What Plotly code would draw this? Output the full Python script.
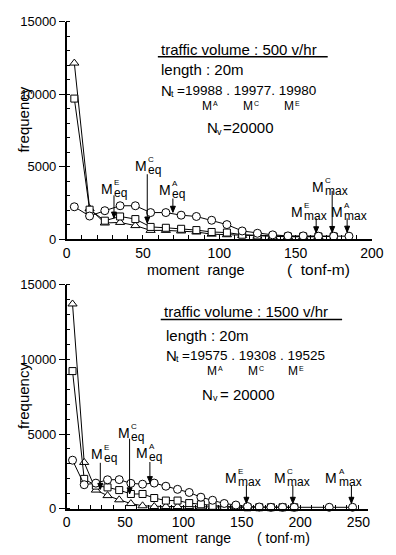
import plotly.graph_objects as go

W, H = 396, 555
OFF = 8  # the page body margin shifts the figure by 8 px

# ---------------- data ----------------
bins_top = list(range(5, 195, 10))  # 5 .. 185
top_A = [2230, 1590, 1960, 2300, 2300, 1830, 1830, 1650, 1560, 1300, 1000, 560, 400, 290, 220, 220, 200, 200, 200]
top_C = [9700, 2030, 1270, 1560, 1380, 840, 780, 710, 620, 490, 450, 300, 250, 200, 180, 180, 180, 180, None]
top_E = [12150, 2100, 1110, 1150, 930, 600, 600, 560, 490, 340, 300, 250, 200, 180, 160, 160, 160, None, None]

bins_bot = list(range(5, 255, 10))  # 5 .. 245
bot_A = [3250, 1610, 1715, 1940, 1950, 1700, 1645, 1720, 1510, 1300, 1090, 775, 570, 355, 250, 150, 120,
         100, 100, 100, None, None, 100, None, 100]
bot_C = [9210, 2000, 1550, 1430, 1250, 990, 990, 720, 550, 550, 380, 300, 200, 150, 120, 100, 100,
         100, 100, 100, None, None, None, None, None]
bot_E = [13700, 3100, 1250, 880, 600, 350, 200, 150, 150, 150, 150, 120, 100, 100, 100, 100,
         None, None, None, None, None, None, None, None, None]

# equivalent / maximum moment markers (order: E, C, A)
top_meq = [31, 52.8, 69.6]
top_meq_tip = [1450, 1110, 1850]
top_mmax = [163.5, 174, 183.8]
top_mmax_tip = [160, 180, 200]
bot_meq = [28.8, 53.9, 71.3]
bot_meq_tip = [1300, 1000, 1750]
bot_mmax = [154, 193.8, 244]
bot_mmax_tip = [100, 100, 100]

letters = ["E", "C", "A"]

x_ticks_top = [0, 50, 100, 150, 200]
x_ticks_bot = [0, 50, 100, 150, 200, 250]
y_ticks = [0, 5000, 10000, 15000]
y_tick_text = ["0", "5000", "10000", "15000"]

# ---------------- geometry (screen pixels) ----------------
TX0, TX1, TXR = 65, 383, 200
TY0, TY1 = 238.3, 15
BX0, BXR = 65, 258
BX1 = BX0 + BXR * 1.216
BY0, BY1 = 515.5, 285

FONT = "Liberation Sans, Arial, sans-serif"


def fx(x):
    return (x - OFF) / W


def fy(y):
    return 1 - (y - OFF) / H


def P(x, y):
    return fx(x), fy(y)


def ypx_top(v):
    return TY0 - v * (TY0 - TY1) / 15000


def ypx_bot(v):
    return BY0 - v * (BY0 - BY1) / 15000


fig = go.Figure()

line_style = dict(color="black", width=1)


def add_series(x, y, symbol, size, xa, ya):
    fig.add_trace(go.Scatter(
        x=x, y=y, mode="lines+markers", connectgaps=True,
        line=line_style,
        marker=dict(symbol=symbol, size=size, color="white", line=dict(color="black", width=1)),
        xaxis=xa, yaxis=ya, cliponaxis=False, showlegend=False, hoverinfo="skip"))


add_series(bins_top, top_E, "triangle-up", 8, "x", "y")
add_series(bins_top, top_C, "square", 7, "x", "y")
add_series(bins_top, top_A, "circle", 8, "x", "y")
add_series(bins_bot, bot_E, "triangle-up", 8, "x2", "y2")
add_series(bins_bot, bot_C, "square", 7, "x2", "y2")
add_series(bins_bot, bot_A, "circle", 8, "x2", "y2")

axis_common = dict(showline=True, linecolor="black", linewidth=1.5, showgrid=False, zeroline=False,
                   tickcolor="black")
xfont = dict(family=FONT, size=14, color="black")
yfont = dict(family=FONT, size=13, color="black")

fig.update_layout(
    width=W, height=H, margin=dict(l=0, r=0, t=0, b=0),
    paper_bgcolor="white", plot_bgcolor="white",
    font=dict(family=FONT, color="black"),
    xaxis=dict(domain=[fx(TX0), fx(TX1)], range=[0, TXR], anchor="y", tickvals=x_ticks_top,
               ticks="inside", ticklen=4, tickwidth=1, ticklabelstandoff=0, tickfont=xfont,
               minor=dict(dtick=10, ticks="inside", ticklen=4, tickcolor="black", tickwidth=1),
               **axis_common),
    yaxis=dict(domain=[fy(TY0), fy(TY1)], range=[0, 15000], anchor="x", tickvals=y_ticks,
               ticktext=y_tick_text, ticks="outside", ticklen=6, tickwidth=1, tickfont=yfont,
               minor=dict(dtick=1000, ticks="inside", ticklen=4, tickcolor="black", tickwidth=1),
               **axis_common),
    xaxis2=dict(domain=[fx(BX0), fx(BX1)], range=[0, BXR], anchor="y2", tickvals=x_ticks_bot,
                ticks="inside", ticklen=4, tickwidth=1, ticklabelstandoff=0, tickfont=xfont,
                minor=dict(dtick=10, ticks="inside", ticklen=4, tickcolor="black", tickwidth=1),
                **axis_common),
    yaxis2=dict(domain=[fy(BY0), fy(BY1)], range=[0, 15000], anchor="x2", tickvals=y_ticks,
                ticktext=y_tick_text, ticks="outside", ticklen=6, tickwidth=1, tickfont=yfont,
                minor=dict(dtick=1000, ticks="inside", ticklen=4, tickcolor="black", tickwidth=1),
                **axis_common),
)

ann = []


def text(xpx, ypx, t, size=15, anchor="left", angle=0):
    x, y = P(xpx, ypx)
    ann.append(dict(x=x, y=y, xref="paper", yref="paper", text=t, showarrow=False,
                    xanchor=anchor, yanchor="middle", textangle=angle, borderpad=0,
                    font=dict(family=FONT, size=size, color="black")))


def arrow(xv, tipv, tail_px, tip_px, xr, yr, standoff=0):
    length = tip_px - tail_px  # pixels above the tip
    s = standoff
    path = (f"M 0 {s} L 0 {length} "
            f"M -2.5 {s + 6} L 0 {s} L 2.5 {s + 6} Z")
    fig.add_shape(type="path", xref=xr, yref=yr, xsizemode="pixel", ysizemode="pixel",
                  xanchor=xv, yanchor=tipv, path=path,
                  line=dict(color="black", width=1), fillcolor="black")


def mlabel(mcx, mcy, sup, sub):
    text(mcx, mcy, "M", size=14, anchor="center")
    text(mcx + 6.5, mcy - 7, sup, size=8)
    text(mcx + 6.5, mcy + 4, sub, size=12)


def msup(x, y, sup):
    text(x, y, "M", size=12)
    text(x + 11.5, y - 3, sup, size=7)


# ---------- top panel annotations ----------
top_meq_lbl = [(106.7, 186.7, 194), (142.5, 163.3, 173), (167.5, 187.7, 197)]
for (mx, my, tail), xv, tv, L in zip(top_meq_lbl, top_meq, top_meq_tip, letters):
    mlabel(mx, my, L, "eq")
    arrow(xv, tv, tail, ypx_top(tv), "x", "y")

top_mmax_lbl = [(304.7, 210.8, 217.5), (326.7, 184.7, 190), (346.7, 210.8, 217.5)]
for (mx, my, tail), xv, tv, L in zip(top_mmax_lbl, top_mmax, top_mmax_tip, letters):
    mlabel(mx, my, L, "max")
    arrow(xv, tv, tail, ypx_top(tv), "x", "y", standoff=4)

# ---------- bottom panel annotations ----------
bot_meq_lbl = [(96.7, 459.2, 469), (124.2, 437.5, 445), (143.3, 458.3, 468)]
for (mx, my, tail), xv, tv, L in zip(bot_meq_lbl, bot_meq, bot_meq_tip, letters):
    mlabel(mx, my, L, "eq")
    arrow(xv, tv, tail, ypx_bot(tv), "x2", "y2")

bot_mmax_lbl = [(235.8, 484.3, 492), (287.5, 484.3, 492), (340.8, 484.3, 492)]
for (mx, my, tail), xv, tv, L in zip(bot_mmax_lbl, bot_mmax, bot_mmax_tip, letters):
    mlabel(mx, my, L, "max")
    arrow(xv, tv, tail, ypx_bot(tv), "x2", "y2", standoff=4)

# ---------- text blocks ----------
text(162, 43, "traffic volume : 500 v/hr", size=15)
text(162, 64, "length : 20m", size=15)
text(162, 85.5, "N", size=15)
text(173, 89.5, "t", size=9)
text(179, 85.5, "=19988 . 19977. 19980", size=13.5)
msup(205, 102, "A")
msup(248, 102, "C")
msup(290, 102, "E")
text(210, 124, "N", size=15)
text(221, 128, "v", size=9)
text(227, 124, "=20000", size=15)

text(165, 313, "traffic volume : 1500 v/hr", size=15)
text(167, 337, "length : 20m", size=15)
text(167, 357.5, "N", size=15)
text(178, 361.5, "t", size=9)
text(184, 357.5, "=19575 . 19308 . 19525", size=13.5)
msup(210, 374, "A")
msup(253, 374, "C")
msup(295, 374, "E")
text(205, 398, "N", size=15)
text(216, 402, "v", size=9)
text(224, 398, "= 20000", size=15)

# axis titles
text(20, 116, "frequency", size=15, anchor="center", angle=-90)
text(20, 400, "frequency", size=15, anchor="center", angle=-90)
text(148, 270, "moment  range", size=14.5)
text(327, 270, "(  tonf-m)", size=15.5, anchor="center")
text(137, 545.5, "moment  range", size=14)
text(291, 545.5, "( tonf·m)", size=14, anchor="center")

fig.update_layout(annotations=ann)

# underlines of the headings
for (x0, x1, y) in [(160, 337, 51), (163, 352, 321)]:
    fig.add_shape(type="line", xref="paper", yref="paper", x0=fx(x0), x1=fx(x1), y0=fy(y), y1=fy(y),
                  line=dict(color="black", width=1.5))

fig.write_html("out.html")
